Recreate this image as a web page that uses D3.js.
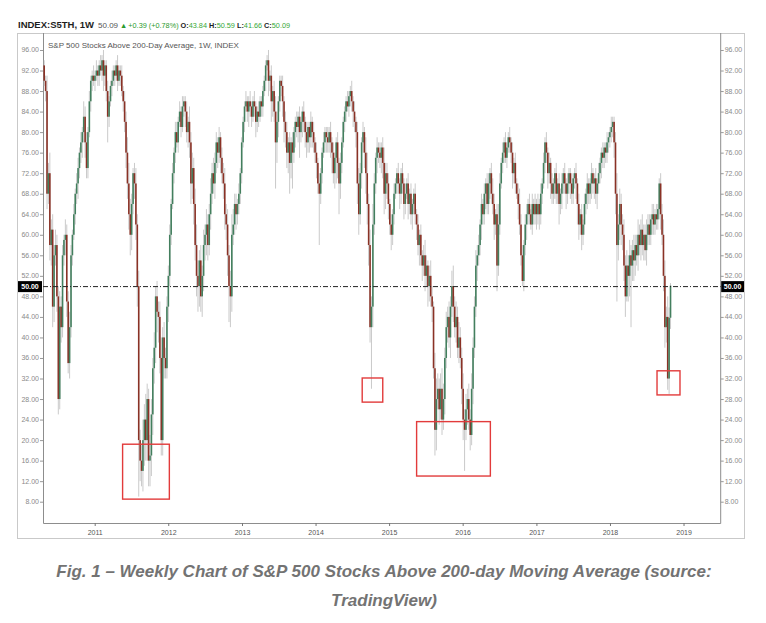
<!DOCTYPE html>
<html>
<head>
<meta charset="utf-8">
<script src="https://cdn.jsdelivr.net/npm/d3@7"></script>
<style>
  body { margin: 0; background: #fff; }
  svg { display: block; }
</style>
</head>
<body>
<div class="chart"></div>
<script>
// weekly bars of INDEX:S5TH, first bar is the week ending 2010-04-23
var firstWeek = new Date(2010, 3, 23);
var firstOpen = 93;

var closes = [
  // 2010
  90,88,68,72,58,61,46,56,58,48, 28,46,42,56,59,60,47,35,42,56, 60,64,68,70,73,76,78,80,83,78, 73,80,86,90,91,90,
  // 2011
  91,92,91,93,92,94,91,93,88,83, 86,89,90,92,91,93,90,92,91,88, 86,82,76,70,64,60,66,72,70,62, 50,20,16,14,20,24,20,28,16,17, 25,34,38,48,45,44,36,20,40,36, 34,46,
  // 2012
  52,60,66,72,76,80,78,82,84,81, 85,86,84,80,82,78,70,73,66,58, 52,50,55,48,52,58,60,62,58,64, 68,72,70,74,78,76,79,75,72,70, 64,62,56,50,48,60,62,66,64,66, 68,72,
  // 2013
  78,82,85,86,84,86,85,83,86,85, 82,84,83,86,85,88,90,93,94,90, 91,86,88,84,78,82,86,90,89,86, 82,80,76,78,74,78,76,80,82,81, 83,80,82,84,82,80,78,81,79,82, 80,78,
  // 2014
  76,74,70,68,72,76,78,80,79,78, 80,78,76,72,75,78,74,70,74,78, 82,84,86,85,87,88,86,84,82,80, 70,64,72,78,80,76,72,66,58,42, 46,62,70,75,77,76,75,77,74,68, 72,70,
  // 2015
  66,62,60,64,68,70,72,70,68,72, 70,66,68,70,66,68,64,66,68,64, 62,58,60,56,54,56,52,54,50,52, 48,46,34,22,28,30,26,30,24,28, 36,42,44,40,46,50,46,42,44,38, 40,36,
  // 2016
  30,24,22,26,28,24,21,30,38,46, 54,56,58,62,66,64,68,70,66,70, 72,68,66,62,64,54,62,70,74,76, 78,75,77,79,78,76,72,74,70,68, 66,62,56,51,58,62,64,66,64,62, 66,64,
  // 2017
  66,64,66,64,68,70,74,78,76,72, 74,70,68,70,72,68,70,66,68,70, 72,70,68,70,72,70,68,71,72,70, 66,62,64,60,62,66,68,70,68,70, 72,70,71,68,70,72,74,76,75,77, 76,78,
  // 2018
  79,80,81,82,78,68,58,62,66,62, 60,54,48,54,52,56,54,57,55,58, 56,60,58,61,58,60,57,60,62,60, 63,64,62,64,63,65,70,64,60,52, 42,44,32,43.84,50.09
];

// how far high and low reach past the body
var wickUp = [
  1,1,3,2,4,2,3,2,3,2, 2,3,2,2,1,3,2,2,3,2, 1,2,1,2,2,1,2,1,3,2, 2,1,2,1,1,2,
  1,2,1,1,2,1,2,1,1,2, 1,1,2,1,1,1,2,1,1,2, 1,2,2,3,4,3,2,1,2,3, 2,3,2,3,4,3,5,3,2,4, 3,2,3,2,3,2,3,4,2,3, 2,2,
  2,2,1,2,1,2,2,1,2,1, 2,1,1,2,1,3,2,3,2,3, 4,3,2,3,2,3,2,3,2,2, 3,2,3,2,2,1,2,1,2,2, 3,2,3,2,3,4,3,2,2,1, 2,1,
  1,1,1,2,1,1,2,1,1,2, 1,1,2,1,1,1,1,1,1,2, 1,2,1,2,3,2,1,1,1,2, 1,2,2,1,2,1,2,1,1,2, 1,2,1,1,2,1,2,1,1,2, 1,2,
  1,2,1,2,1,1,2,1,1,2, 1,2,1,2,1,1,2,1,2,1, 1,1,1,2,1,1,2,1,2,1, 2,3,2,1,2,1,3,4,2,3, 2,4,2,1,2,1,2,1,2,3, 2,2,
  2,1,2,1,2,1,1,2,1,1, 2,1,2,1,2,1,2,1,1,2, 1,2,1,2,1,2,3,2,1,2, 3,2,1,3,4,3,2,3,4,3, 2,3,2,3,2,3,4,2,3,2, 3,2,
  2,3,2,3,2,3,2,3,2,2, 3,2,2,1,2,1,2,1,2,2, 1,2,3,2,1,2,4,2,1,2, 1,2,1,1,2,1,2,1,2,1, 2,3,2,2,1,2,2,1,2,1, 2,1,
  2,1,2,1,2,1,2,1,2,1, 2,1,2,1,1,2,1,2,1,2, 1,2,1,2,1,1,2,1,1,2, 1,2,1,2,1,2,1,2,1,1, 2,1,1,2,1,2,1,1,2,1, 1,2,
  1,1,2,1,1,2,4,2,3,2, 2,3,2,3,2,3,2,2,3,2, 2,3,2,2,3,2,2,3,2,2, 1,2,2,1,2,1,1,2,2,3, 3,2,4,2,0.5
];
var wickDown = [
  1,2,3,2,3,4,4,3,2,3, 3,2,3,2,2,3,3,2,3,2, 2,1,2,2,3,2,2,3,2,3, 2,2,1,2,2,1,
  2,1,2,2,1,2,3,2,2,5, 2,1,2,1,2,1,2,1,2,1, 2,2,3,3,3,4,3,2,3,3, 4,11,4,3,4,5,4,4,5,5, 4,4,3,3,4,5,3,3,3,4, 2,2,
  3,2,2,1,2,2,1,2,1,2, 1,2,3,2,3,3,4,3,4,3, 4,5,4,3,4,3,3,4,3,2, 3,2,2,3,2,3,2,3,2,3, 3,3,4,7,6,3,2,2,3,2, 2,2,
  2,1,2,1,2,3,2,2,1,2, 3,2,2,1,2,2,1,2,1,3, 2,4,3,2,9,4,3,2,2,3, 4,3,3,4,6,3,7,2,3,2, 3,5,2,3,2,3,3,2,3,2, 3,2,
  2,3,2,10,2,2,1,2,3,2, 2,3,4,2,3,5,3,6,3,2, 1,2,2,1,2,2,2,3,2,3, 4,4,2,3,2,3,4,4,4,3, 12,4,2,2,3,2,2,3,3,4, 3,3,
  3,2,3,2,2,1,2,2,3,2, 2,3,2,1,3,2,2,3,2,2, 3,2,4,2,3,2,3,2,4,3, 2,3,2,5,4,2,3,2,3,2, 3,2,3,2,4,2,3,2,3,2, 3,2,
  3,4,8,2,3,2,3,2,3,2, 2,3,2,2,3,2,2,3,2,2, 3,2,2,3,2,5,2,2,1,2, 2,1,2,1,2,2,3,2,2,1, 3,2,2,1,2,2,3,2,2,1, 2,2,
  2,3,2,3,2,2,1,2,2,3, 2,3,2,2,3,2,2,4,2,3, 2,2,3,2,2,3,2,2,2,3, 4,3,2,3,2,2,2,3,2,2, 3,2,3,2,3,2,2,3,2,2, 2,2,
  2,2,2,2,3,4,11,3,3,4, 3,3,4,1,5,4,12,3,4,3, 2,3,2,3,2,3,2,3,2,2, 2,3,2,2,2,2,2,3,2,3, 4,3,2.2,3,2.18
];

var lastBar = ["43.84", "50.59", "41.66", "50.09"];   // O H L C
var lastChange = ["50.09", "+0.39 (+0.78%)"];
var yearTicks = [2011, 2012, 2013, 2014, 2015, 2016, 2017, 2018, 2019];
var valueTicks = [8, 12, 16, 20, 24, 28, 32, 36, 40, 44, 48, 52, 56, 60, 64, 68, 72, 76, 80, 84, 88, 92, 96];
var refLevel = 50;
var boxes = [
  { from: "2011-05-17", to: "2012-01-04", lo: 8.5, hi: 19.2 },
  { from: "2014-08-18", to: "2014-11-28", lo: 27.4, hi: 32.1 },
  { from: "2015-05-15", to: "2016-05-15", lo: 13.0, hi: 23.6 },
  { from: "2018-08-20", to: "2018-12-12", lo: 28.8, hi: 33.5 }
];
var chartTitle = "S&P 500 Stocks Above 200-Day Average, 1W, INDEX";
var caption = ["Fig. 1 \u2013 Weekly Chart of S&P 500 Stocks Above 200-day Moving Average (source:", "TradingView)"];

var width = 766, height = 623;
var plotLeft = 43, plotRight = 720.7, plotTop = 33, plotBottom = 523;
var upColor = "#437f5e", downColor = "#8a3226";
var font = "'Liberation Sans', Arial, sans-serif";

var svg = d3.select(".chart").append("svg")
        .attr("width", width)
        .attr("height", height);

var x = d3.scaleTime()
        .domain([new Date(2010, 3, 17), new Date(2019, 6, 2)])
        .range([plotLeft, plotRight]);
var y = d3.scaleLinear()
        .domain([3.85, 98.92])
        .range([plotBottom, plotTop + 2]);

var candles = closes.map(function (c, i) {
    var o = i ? closes[i - 1] : firstOpen;
    return {
        date: d3.timeWeek.offset(firstWeek, i),
        o: o, c: c,
        h: Math.max(o, c) + wickUp[i],
        l: Math.min(o, c) - wickDown[i]
    };
});

// frame
svg.append("rect")
        .attr("x", 17.5).attr("y", plotTop + 0.5)
        .attr("width", 744.5 - 17.5).attr("height", 538.5 - plotTop - 0.5)
        .attr("fill", "none").attr("stroke", "#c9c9c9");
svg.append("path")
        .attr("d", "M" + (plotLeft + 0.5) + "," + plotTop + "V" + (plotBottom + 0.5) + "H" + plotRight + "V" + plotTop)
        .attr("fill", "none").attr("stroke", "#8d8d8d");

// header
var head = svg.append("text").attr("x", 18).attr("y", 28)
        .style("font-family", font).style("font-size", "7.3px");
head.append("tspan").attr("font-weight", "bold").style("font-size", "9.5px").attr("fill", "#1e1e1e").text("INDEX:S5TH, 1W");
head.append("tspan").attr("dx", 4).style("font-size", "8px").attr("fill", "#555").text(lastChange[0]);
head.append("tspan").attr("dx", 2).attr("fill", "#2b9a2e").text("\u25B2");
head.append("tspan").attr("dx", 1).attr("fill", "#2b9a2e").text(lastChange[1]);
["O:", "H:", "L:", "C:"].forEach(function (k, i) {
    head.append("tspan").attr("dx", 2).attr("font-weight", "bold").attr("fill", "#1e1e1e").text(k);
    head.append("tspan").attr("fill", "#37a837").text(lastBar[i]);
});

svg.append("text").attr("x", 48).attr("y", 48)
        .style("font-family", font).style("font-size", "8px")
        .attr("fill", "#555").text(chartTitle);

// value axes
var fmt = d3.format(".2f");
[[plotLeft, -1], [plotRight, 1]].forEach(function (side) {
    var g = svg.append("g");
    g.selectAll("line").data(valueTicks).enter().append("line")
            .attr("x1", side[0]).attr("x2", side[0] + side[1] * 3)
            .attr("y1", function (d) { return y(d) + 0.5; })
            .attr("y2", function (d) { return y(d) + 0.5; })
            .attr("stroke", "#999");
    g.selectAll("text").data(valueTicks).enter().append("text")
            .attr("x", side[0] + side[1] * 4)
            .attr("y", function (d) { return y(d) + 2.5; })
            .attr("text-anchor", side[1] < 0 ? "end" : "start")
            .style("font-family", font).style("font-size", "7px")
            .attr("fill", "#8a8a8a")
            .text(function (d) { return fmt(d); });
});

// time axis
var xg = svg.append("g");
xg.selectAll("line").data(yearTicks).enter().append("line")
        .attr("x1", function (d) { return x(new Date(d, 0, 1)); })
        .attr("x2", function (d) { return x(new Date(d, 0, 1)); })
        .attr("y1", plotBottom).attr("y2", plotBottom + 3)
        .attr("stroke", "#777");
xg.selectAll("text").data(yearTicks).enter().append("text")
        .attr("x", function (d) { return x(new Date(d, 0, 1)); })
        .attr("y", plotBottom + 12)
        .attr("text-anchor", "middle")
        .style("font-family", font).style("font-size", "7px")
        .attr("fill", "#555")
        .text(function (d) { return d; });

// candles
svg.append("g").selectAll("line").data(candles).enter().append("line")
        .attr("x1", function (d) { return x(d.date); })
        .attr("x2", function (d) { return x(d.date); })
        .attr("y1", function (d) { return y(d.h); })
        .attr("y2", function (d) { return y(d.l); })
        .attr("stroke", "#bcbcbc").attr("stroke-width", 0.8);
svg.append("g").selectAll("rect").data(candles).enter().append("rect")
        .attr("x", function (d) { return x(d.date) - 0.8; })
        .attr("width", 1.6)
        .attr("y", function (d) { return y(Math.max(d.o, d.c)); })
        .attr("height", function (d) { return Math.max(0.6, Math.abs(y(d.o) - y(d.c))); })
        .attr("fill", function (d) { return d.c >= d.o ? upColor : downColor; });

// 50 line
svg.append("line")
        .attr("x1", plotLeft).attr("x2", plotRight)
        .attr("y1", y(refLevel) + 0.5).attr("y2", y(refLevel) + 0.5)
        .attr("stroke", "#222").attr("stroke-dasharray", "5,2,1,2");
[[18, plotLeft - 1], [plotRight + 0.5, 744]].forEach(function (p) {
    svg.append("rect").attr("x", p[0]).attr("y", y(refLevel) - 5)
            .attr("width", p[1] - p[0]).attr("height", 11).attr("fill", "#000");
    svg.append("text").attr("x", (p[0] + p[1]) / 2).attr("y", y(refLevel) + 3)
            .attr("text-anchor", "middle")
            .style("font-family", font).style("font-size", "7px").attr("font-weight", "bold")
            .attr("fill", "#fff").text(fmt(refLevel));
});

// highlighted lows
var parse = d3.timeParse("%Y-%m-%d");
svg.append("g").selectAll("rect").data(boxes).enter().append("rect")
        .attr("x", function (d) { return x(parse(d.from)); })
        .attr("width", function (d) { return x(parse(d.to)) - x(parse(d.from)); })
        .attr("y", function (d) { return y(d.hi); })
        .attr("height", function (d) { return y(d.lo) - y(d.hi); })
        .attr("fill", "none").attr("stroke", "#e23b3b").attr("stroke-width", 1.4);

// caption
svg.append("g").selectAll("text").data(caption).enter().append("text")
        .attr("x", 384)
        .attr("y", function (d, i) { return 577 + i * 29; })
        .attr("text-anchor", "middle")
        .style("font-family", font).style("font-size", "17px")
        .style("font-weight", "bold").style("font-style", "italic")
        .attr("fill", "#737373")
        .text(function (d) { return d; });
</script>
</body>
</html>
